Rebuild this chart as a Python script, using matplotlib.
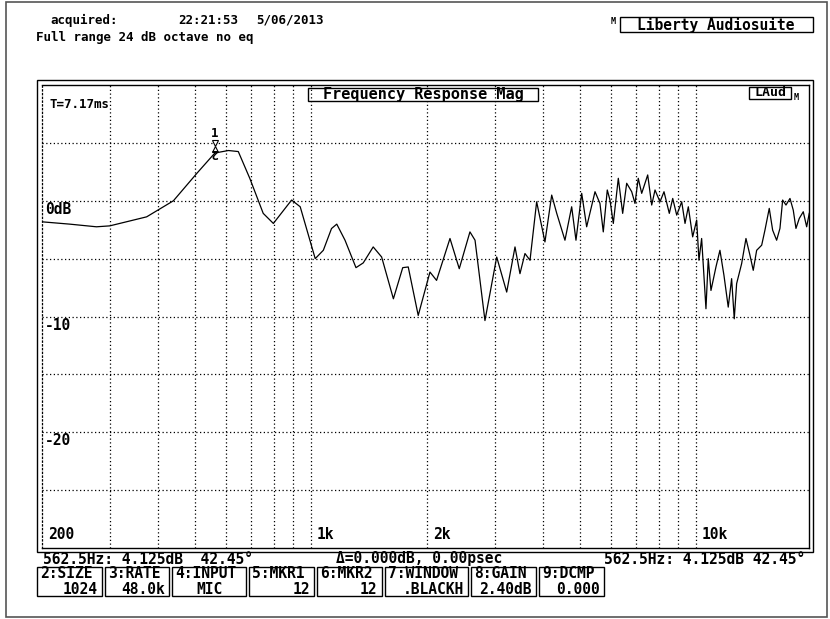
import matplotlib
matplotlib.use("Agg")
import matplotlib.pyplot as plt
from matplotlib.patches import Rectangle
from matplotlib.transforms import offset_copy

# magnitude response
freq_hz = [200, 236, 277, 300, 374, 439, 505, 562.5, 610, 647, 693, 751, 798,
           890, 937, 1025, 1076, 1130, 1166, 1225, 1308, 1366, 1450, 1525,
           1636, 1730, 1788, 1898, 2036, 2118, 2295, 2426, 2586, 2666, 2829,
           3035, 3222, 3386, 3488, 3594, 3704, 3854, 4050, 4217, 4346, 4565,
           4752, 4876, 5046, 5198, 5464, 5628, 5741, 5880, 5976, 6096, 6281,
           6447, 6604, 6805, 6940, 7077, 7224, 7488, 7670, 7823, 8060, 8255,
           8521, 8697, 8907, 9178, 9361, 9547, 9799, 10036, 10174, 10339,
           10610, 10756, 10933, 11263, 11535, 11815, 12122, 12370, 12566,
           12746, 13134, 13478, 13804, 14078, 14368, 14806, 15098, 15492,
           15810, 16192, 16516, 16786, 17122, 17538, 17884, 18176, 18538,
           18986, 19376, 19680]
mag_db = [-1.82, -2.02, -2.25, -2.17, -1.39, 0.0, 2.37, 4.125, 4.34, 4.25, 1.94,
          -1.09, -1.96, 0.06, -0.52, -5.0, -4.28, -2.4, -2.02, -3.41, -5.78,
          -5.37, -3.99, -4.86, -8.47, -5.78, -5.72, -9.91, -6.16, -6.88, -3.26,
          -5.87, -2.69, -3.41, -10.35, -4.86, -7.89, -3.99, -6.3, -4.56, -5.14,
          -0.09, -3.56, 0.49, -1.09, -3.41, -0.52, -3.41, 0.64, -2.25, 0.78,
          -0.23, -2.69, 0.93, 0.06, -1.96, 1.94, -1.09, 1.51, 0.78, -0.23,
          1.94, 0.64, 2.23, -0.37, 0.93, -0.09, 0.78, -1.09, 0.2, -1.24,
          -0.09, -1.96, -0.52, -3.12, -1.67, -5.14, -3.26, -9.33, -5.0,
          -7.75, -5.72, -4.28, -6.44, -9.19, -6.73, -10.2, -7.16, -5.43,
          -3.26, -4.71, -6.01, -4.28, -3.84, -2.54, -0.66, -2.54, -3.41,
          -2.39, 0.06, -0.37, 0.2, -0.81, -2.39, -1.53, -0.95, -2.25, -1.09]

x_labels_at = [200, 1000, 2000, 10000]
x_labels = ['200', '1k', '2k', '10k']
y_labels_at = [0, -10, -20]
y_labels = ['0dB', '-10', '-20']
grid_x = [300, 400, 500, 600, 700, 800, 900, 1000, 2000, 3000, 4000, 5000,
          6000, 7000, 8000, 9000, 10000]
grid_y = [5, 0, -5, -10, -15, -20, -25]

marker_freq = 562.5
marker_db = 4.125

box_labels = ['2:SIZE', '3:RATE', '4:INPUT', '5:MKR1', '6:MKR2', '7:WINDOW',
              '8:GAIN', '9:DCMP']
box_values = ['1024', '48.0k', 'MIC', '12', '12', '.BLACKH', '2.40dB', '0.000']

W, H = 830, 619
MONO = 'DejaVu Sans Mono'
FS = 10.5
DOTS = (0, (1, 2))

fig = plt.figure(figsize=(W / 100, H / 100), dpi=100)


def fx(x):
    return x / W


def fy(y):
    return 1 - y / H


def ptext(x, y, s, **kw):
    kw.setdefault('fontsize', FS)
    kw.setdefault('family', MONO)
    kw.setdefault('va', 'center')
    kw.setdefault('fontweight', 'bold')
    fig.text(fx(x), fy(y), s, **kw)


def pbox(x0, y0, x1, y1, lw=1.0, ec='black'):
    fig.add_artist(Rectangle((fx(x0), fy(y1)), fx(x1) - fx(x0), fy(y0) - fy(y1),
                             transform=fig.transFigure, fill=False, ec=ec, lw=lw))


# outer page frame
pbox(6, 2, 827, 617, lw=1.2, ec='#555555')

# header
ptext(50, 20, 'acquired:', fontsize=9)
ptext(178, 20, '22:21:53', fontsize=9)
ptext(256, 20, '5/06/2013', fontsize=9)
ptext(36, 38, 'Full range 24 dB octave no eq', fontsize=9)
ptext(611, 22, 'M', fontsize=6)
pbox(620, 17, 813, 32)
ptext(716, 25, 'Liberty Audiosuite', ha='center')

# plot area
ax = fig.add_axes([fx(42), fy(548), fx(809) - fx(42), fy(85) - fy(548)])
ax.set_xscale('log')
ax.set_xlim(200, 19650)
ax.set_ylim(-30, 10)
for f in grid_x:
    ax.axvline(f, color='black', lw=0.9, ls=DOTS)
for d in grid_y:
    ax.axhline(d, color='black', lw=0.9, ls=DOTS)
ax.plot(freq_hz, mag_db, color='black', lw=0.9)
ax.set_xticks([])
ax.set_yticks([])
ax.minorticks_off()
for s in ['top', 'right', 'bottom']:
    ax.spines[s].set_linewidth(1.0)
ax.spines['left'].set_linestyle(DOTS)
ax.spines['left'].set_linewidth(0.9)
pbox(37, 80, 813, 552, lw=1.0)

# axis labels inside the plot
lab_y = offset_copy(ax.get_yaxis_transform(), fig=fig, x=3, y=-1, units='dots')
for d, s in zip(y_labels_at, y_labels):
    ax.text(0, d, s, transform=lab_y, ha='left', va='top', fontsize=FS,
            family=MONO, fontweight='bold')
lab_x = offset_copy(ax.get_xaxis_transform(), fig=fig, x=6, y=6, units='dots')
for f, s in zip(x_labels_at, x_labels):
    ax.text(f, 0, s, transform=lab_x, ha='left', va='bottom', fontsize=FS,
            family=MONO, fontweight='bold')

ptext(49, 104, 'T=7.17ms', fontsize=9)
pbox(308, 88, 538, 101)
ptext(423, 95, 'Frequency Response Mag', ha='center', fontsize=11)
pbox(749, 87, 791, 99)
ptext(770, 93, 'LAud', ha='center', fontsize=9.5)
ptext(794, 98, 'M', fontsize=6)

# markers 1 and 2
def mark_off(dy):
    return offset_copy(ax.transData, fig=fig, x=0, y=dy, units='dots')

ax.text(marker_freq, marker_db, '1', transform=mark_off(13), ha='center',
        va='bottom', fontsize=9, family=MONO, fontweight='bold')
ax.plot([marker_freq], [marker_db], marker='v', ms=5, mfc='white', mec='black',
        mew=0.8, transform=mark_off(10))
ax.plot([marker_freq], [marker_db], marker='^', ms=5, mfc='white', mec='black',
        mew=0.8, transform=mark_off(4))
ax.text(marker_freq, marker_db, '2', transform=mark_off(1), ha='center',
        va='center', fontsize=9, family=MONO, fontweight='bold', rotation=180)

# status line
ptext(43, 559, '562.5Hz: 4.125dB  42.45\u00b0')
ptext(336, 559, '\u0394=0.000dB, 0.00psec')
ptext(805, 559, '562.5Hz: 4.125dB 42.45\u00b0', ha='right')

# parameter boxes
x = 37
for lab, val in zip(box_labels, box_values):
    w = 9.6 * len(lab) + 7
    pbox(x, 567, x + w, 596)
    ptext(x + 3, 574, lab)
    if val == 'MIC':
        ptext(x + w / 2, 589, val, ha='center')
    else:
        ptext(x + w - 4, 589, val, ha='right')
    x += w + 3

fig.savefig('out.png', dpi=100)
